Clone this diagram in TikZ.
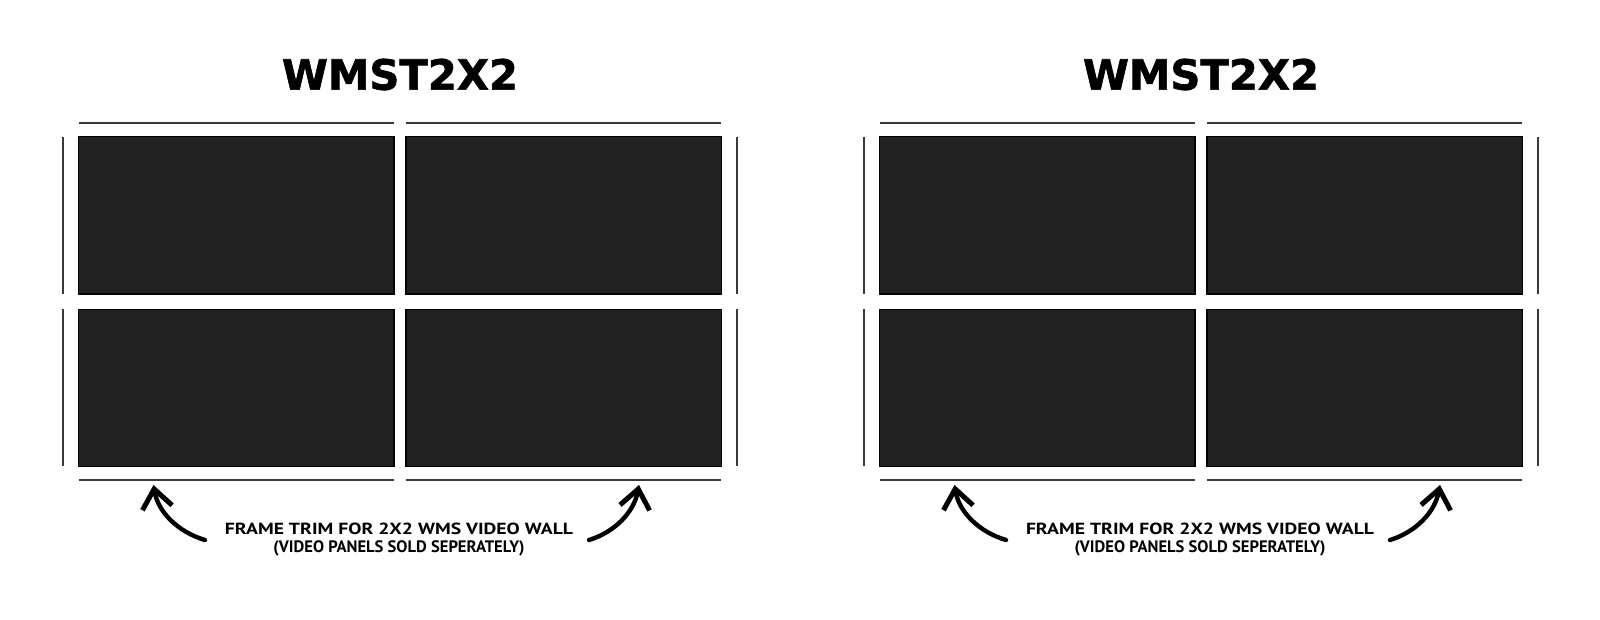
\documentclass[tikz,border=0pt]{standalone}
\usepackage{fontspec}
\usetikzlibrary{arrows.meta}
\newfontfamily\titlefont{DejaVu Sans}[BoldFeatures={FakeBold=1.5}]
\newfontfamily\capfont{PT Sans}
\definecolor{panelfill}{HTML}{232222}
\definecolor{trimgray}{HTML}{3A3A3A}
\begin{document}
\begin{tikzpicture}[x=1pt,y=-1pt,
  panel/.style={draw=black,line width=1.4pt,fill=panelfill},
  trim/.style={draw=trimgray,line width=2pt},
  bigarrow/.style={line width=4.4pt,line cap=round,-{Straight Barb[length=19pt,width=30pt,line width=5pt]}},
  titletext/.style={inner sep=0pt,anchor=center},
  captext/.style={inner sep=0pt,anchor=center}]
\useasboundingbox[fill=white] (0,0) rectangle (1600,619);
\foreach \ox/\s in {0/L,801/R}{
  \begin{scope}[xshift=\ox pt]
    \node[titletext] (title\s) at (400,74.5) {\resizebox{236pt}{!}{\titlefont\bfseries WMST2X2}};
    % trims
    \draw[trim] (78.6,122.5) -- (393.9,122.5);
    \draw[trim] (406.1,122.5) -- (721.4,122.5);
    \draw[trim] (78.6,479.6) -- (393.9,479.6);
    \draw[trim] (406.1,479.6) -- (721.4,479.6);
    \draw[trim] (63.3,136.7) -- (63.3,293.9);
    \draw[trim] (63.3,309.2) -- (63.3,466.3);
    \draw[trim] (736.7,136.7) -- (736.7,293.9);
    \draw[trim] (736.7,309.2) -- (736.7,466.3);
    % panels
    \path[panel] (78.6,136.7) rectangle (393.9,293.9);
    \path[panel] (406.1,136.7) rectangle (721.4,293.9);
    \path[panel] (78.6,309.2) rectangle (393.9,466.3);
    \path[panel] (406.1,309.2) rectangle (721.4,466.3);
    % captions
    \node[captext] (cap\s) at (399,529) {\resizebox{348pt}{11.5pt}{\capfont\bfseries FRAME TRIM FOR 2X2 WMS VIDEO WALL}};
    \node[captext] (sub\s) at (399,548.5) {\resizebox{251pt}{!}{\capfont\bfseries (VIDEO PANELS SOLD SEPERATELY)}};
    % arrows
    \coordinate (lt\s) at (205,540);
    \coordinate (lh\s) at (153.5,485);
    \coordinate (rt\s) at (589,540);
    \coordinate (rh\s) at (639,485);
    \draw[bigarrow] (lt\s) .. controls (178,532) and (158,512) .. (lh\s);
    \draw[bigarrow] (rt\s) .. controls (615,532) and (634,512) .. (rh\s);
  \end{scope}
}
\end{tikzpicture}
\end{document}
